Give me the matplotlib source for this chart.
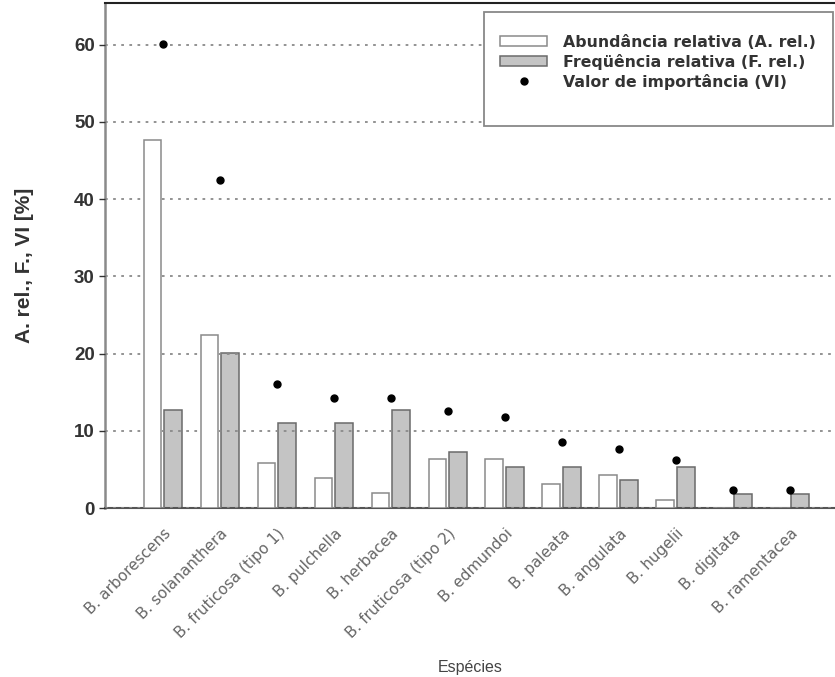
import numpy as np
import matplotlib
matplotlib.use("Agg")
import matplotlib.pyplot as plt
from matplotlib.patches import Rectangle

plt.rcParams["font.family"] = ["Liberation Sans", "DejaVu Sans"]

# data
species = [
    "B. arborescens", "B. solananthera", "B. fruticosa (tipo 1)", "B. pulchella",
    "B. herbacea", "B. fruticosa (tipo 2)", "B. edmundoi", "B. paleata",
    "B. angulata", "B. hugelii", "B. digitata", "B. ramentacea",
]
abund_rel = [47.6, 22.4, 5.8, 3.9, 1.9, 6.4, 6.3, 3.1, 4.3, 1.0, 0.0, 0.0]
freq_rel = [12.7, 20.1, 11.0, 11.0, 12.7, 7.2, 5.3, 5.3, 3.6, 5.3, 1.8, 1.8]
valor_imp = [60.1, 42.5, 16.1, 14.3, 14.3, 12.6, 11.8, 8.5, 7.6, 6.2, 2.3, 2.3]

legend_labels = [
    "Abundância relativa (A. rel.)",
    "Freqüência relativa (F. rel.)",
    "Valor de importância (VI)",
]

fig = plt.figure(figsize=(8.35, 6.77), dpi=100)
ax = fig.add_axes([0.126, 0.2496, 0.874, 0.746])

x = np.arange(len(species))
w = 0.31

b_white = ax.bar(x - 0.19, abund_rel, w, color="white", edgecolor="#8a8a8a",
                 linewidth=1.1, zorder=3)
b_grey = ax.bar(x + 0.17, freq_rel, w, color="#c4c4c4", edgecolor="#6a6a6a",
                linewidth=1.1, zorder=2)
(dots,) = ax.plot(x, valor_imp, "o", color="black", markersize=5, zorder=4)

ax.set_xlim(-1.02, 11.79)
ax.set_ylim(0, 65.4)
ax.set_yticks(range(0, 61, 10))
ax.set_axisbelow(False)
ax.yaxis.grid(True, linestyle=(0, (1.5, 3)), color="#8a8a8a", linewidth=1.3)

ax.spines["left"].set_color("#8a8a8a")
ax.spines["left"].set_linewidth(1.8)
ax.spines["bottom"].set_color("#555555")
ax.spines["bottom"].set_linewidth(1.5)
ax.spines["top"].set_color("#222222")
ax.spines["top"].set_linewidth(1.5)
ax.spines["right"].set_visible(False)

ax.tick_params(axis="y", labelsize=13.5, colors="#333333", length=4, width=1)
for lbl in ax.get_yticklabels():
    lbl.set_fontweight("bold")
ax.tick_params(axis="x", length=0, pad=13)
ax.set_xticks(x)
ax.set_xticklabels(species, rotation=45, ha="right", rotation_mode="anchor",
                   fontsize=11, color="#666666", family="DejaVu Sans")

ax.set_ylabel("A. rel., F., VI [%]", fontsize=15, color="#333333",
              fontweight="bold")
ax.yaxis.set_label_coords(-0.098, 0.481)
ax.set_xlabel("Espécies", fontsize=11.5, color="#444444")
ax.xaxis.set_label_coords(0.5, -0.301)

# legend box drawn separately to match the tall reference frame
ax.add_patch(Rectangle((0.519, 0.756), 0.478, 0.226, transform=ax.transAxes,
                       facecolor="white", edgecolor="#888888", linewidth=1.3,
                       zorder=5))
leg = ax.legend([b_white, b_grey, dots], legend_labels,
                loc="upper left", bbox_to_anchor=(0.541, 0.937),
                prop={"family": "DejaVu Sans", "weight": "bold", "size": 11.3},
                frameon=False, handlelength=3.0, handleheight=0.6,
                labelspacing=0.25, handletextpad=1.0, borderaxespad=0,
                borderpad=0)
leg.set_zorder(6)
for t in leg.get_texts():
    t.set_color("#333333")

fig.savefig("out.png", dpi=100)
